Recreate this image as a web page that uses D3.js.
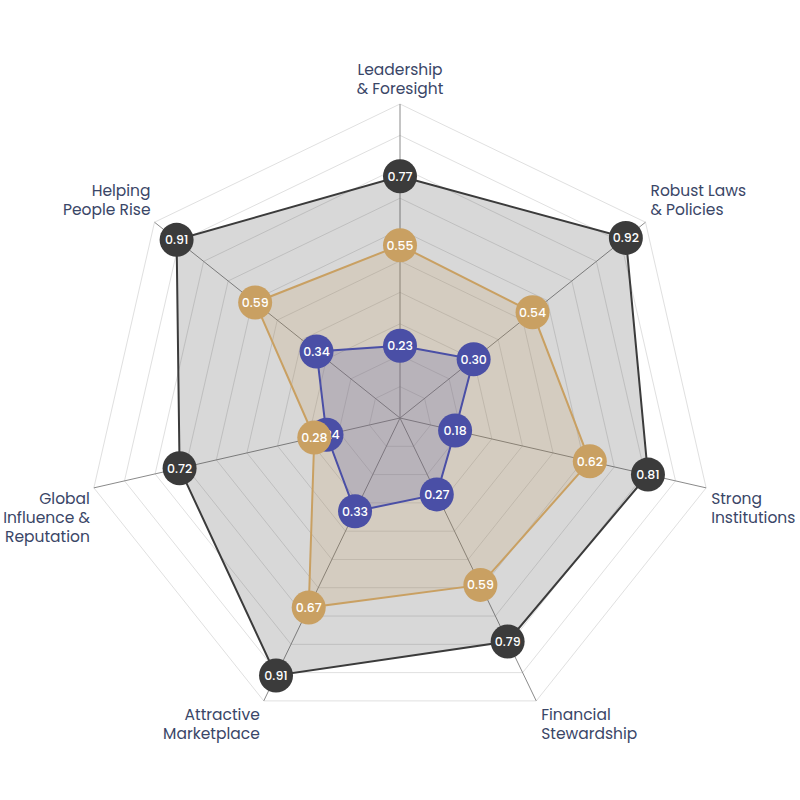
<!DOCTYPE html>
<html>
<head>
<meta charset="utf-8">
<script src="https://cdn.jsdelivr.net/npm/d3@7"></script>
<style>
  html, body { margin: 0; padding: 0; background: #ffffff; }
  svg { display: block; }
</style>
</head>
<body>
<svg id="chart" width="800" height="800"></svg>
<script>
// ---- Data ----
const categories = [
  ["Leadership", "& Foresight"],
  ["Robust Laws", "& Policies"],
  ["Strong", "Institutions"],
  ["Financial", "Stewardship"],
  ["Attractive", "Marketplace"],
  ["Global", "Influence &", "Reputation"],
  ["Helping", "People Rise"]
];
const seriesNames = ["Series A", "Series B", "Series C"];
const seriesDark = [0.77, 0.92, 0.81, 0.79, 0.91, 0.72, 0.91];
const seriesGold = [0.55, 0.54, 0.62, 0.59, 0.67, 0.28, 0.59];
const seriesBlue = [0.23, 0.30, 0.18, 0.27, 0.33, 0.24, 0.34];
const gridLevels = [0.1, 0.2, 0.3, 0.4, 0.5, 0.6, 0.7, 0.8, 0.9, 1.0];

const colors = { dark: "#3b3b3b", gold: "#c9a062", blue: "#4a4fa6" };

// ---- Layout ----
const cx = 400, cy = 418, R = 314;
const svg = d3.select("#chart");
const n = categories.length;
const angle = d3.scaleLinear().domain([0, n]).range([0, 2 * Math.PI]);
const r = d3.scaleLinear().domain([0, 1]).range([0, R]);
const pt = (i, v) => [cx + r(v) * Math.sin(angle(i)), cy - r(v) * Math.cos(angle(i))];

const g = svg.append("g");

// grid rings
g.selectAll("polygon.ring").data(gridLevels).enter().append("polygon")
  .attr("class", "ring")
  .attr("points", lv => d3.range(n).map(i => pt(i, lv).join(",")).join(" "))
  .attr("fill", "none")
  .attr("stroke", "#e0e0e0")
  .attr("stroke-width", 1);

// axes
g.selectAll("line.axis").data(d3.range(n)).enter().append("line")
  .attr("class", "axis")
  .attr("x1", cx).attr("y1", cy)
  .attr("x2", i => pt(i, 1)[0]).attr("y2", i => pt(i, 1)[1])
  .attr("stroke", "#8a8a8a")
  .attr("stroke-width", 1);

// series
const series = [
  { name: seriesNames[0], values: seriesDark, color: colors.dark },
  { name: seriesNames[2], values: seriesBlue, color: colors.blue },
  { name: seriesNames[1], values: seriesGold, color: colors.gold }
];
const fillOrder = [series[0], series[2], series[1]];

fillOrder.forEach(s => {
  g.append("polygon")
    .attr("points", s.values.map((v, i) => pt(i, v).join(",")).join(" "))
    .attr("fill", s.color)
    .attr("fill-opacity", 0.2)
    .attr("stroke", s.color)
    .attr("stroke-width", 2)
    .attr("stroke-linejoin", "miter");
});

series.forEach(s => {
  const dots = g.append("g").selectAll("g").data(s.values).enter().append("g")
    .attr("transform", (v, i) => `translate(${pt(i, v)[0]},${pt(i, v)[1]})`);
  dots.append("circle").attr("r", 17).attr("fill", s.color);
  dots.append("text")
    .attr("text-anchor", "middle")
    .attr("dy", "0.36em")
    .attr("fill", "#ffffff")
    .attr("font-family", "Poppins, 'Open Sans', sans-serif")
    .attr("font-size", 12.5)
    .attr("font-weight", 500)
    .text(v => d3.format(".2f")(v));
});

// category labels
const lineH = 19;
categories.forEach((lines, i) => {
  const [vx, vy] = pt(i, 1);
  const sx = Math.sin(angle(i));
  const cyy = -Math.cos(angle(i));
  let anchor = "middle", x = vx;
  if (sx > 0.01) { anchor = "start"; x = vx + 5; }
  else if (sx < -0.01) { anchor = "end"; x = vx - 4; }
  let firstBase;
  if (i === 0) firstBase = vy - 10 - (lines.length - 1) * lineH;
  else if (cyy < 0) firstBase = vy - 7 - (lines.length - 1) * lineH;
  else firstBase = vy + (Math.abs(cyy) > 0.5 ? 19 : 16);
  const t = svg.append("text")
    .attr("text-anchor", anchor)
    .attr("font-family", "Poppins, 'Open Sans', sans-serif")
    .attr("font-size", 15.5)
    .attr("fill", "#3a4667");
  lines.forEach((ln, k) => {
    t.append("tspan").attr("x", x).attr("y", firstBase + k * lineH).text(ln);
  });
});
</script>
</body>
</html>
